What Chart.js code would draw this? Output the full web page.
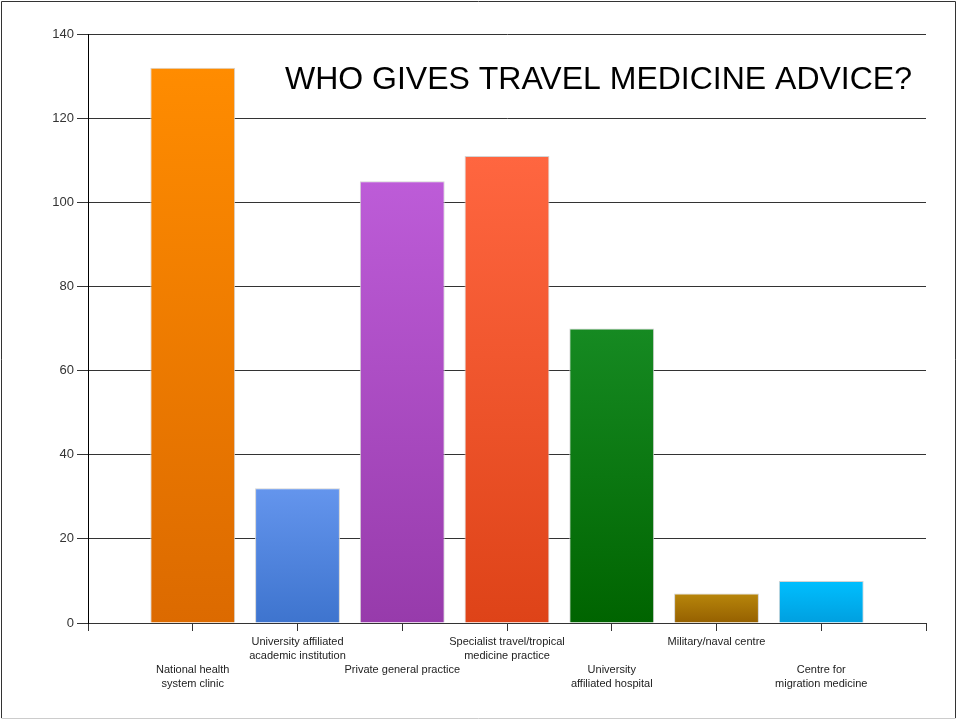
<!DOCTYPE html>
<html>
<head>
<meta charset="utf-8">
<script src="https://cdn.jsdelivr.net/npm/chart.js@4/dist/chart.umd.min.js"></script>
<style>
  html, body { margin: 0; padding: 0; background: #fff; }
  #wrap { width: 957px; height: 720px; position: relative; }
</style>
</head>
<body>
<div id="wrap"><canvas id="chart" width="957" height="720"></canvas></div>
<script>
const categories = [
    ["National health", "system clinic"],
    ["University affiliated", "academic institution"],
    ["Private general practice"],
    ["Specialist travel/tropical", "medicine practice"],
    ["University", "affiliated hospital"],
    ["Military/naval centre"],
    ["Centre for", "migration medicine"],
];
const values = [132, 32, 105, 111, 70, 7, 10];
const topColors = ["#ff8c00", "#6495ed", "#bd5cd8", "#ff6640", "#168a22", "#b8860b", "#00bfff"];
const bottomColors = ["#dc6a00", "#3e74ce", "#973bab", "#de4318", "#006400", "#956000", "#009fdf"];
const yTicks = [0, 20, 40, 60, 80, 100, 120, 140];
const chartTitle = "WHO GIVES TRAVEL MEDICINE ADVICE?";

// empty slot on each side so the bars sit on ticks 1..7 of an 8-wide axis
const labels = [""].concat(categories.map((c, i) => (i % 2 === 0 ? ["", ""].concat(c) : c)), [""]);
const data = [null].concat(values, [null]);

const frame = {
    id: "frame",
    beforeDraw(chart) {
        const c = chart.ctx;
        c.save();
        c.fillStyle = "#fff";
        c.fillRect(0, 0, chart.width, chart.height);
        c.restore();
    },
    afterDraw(chart) {
        const c = chart.ctx;
        const area = chart.chartArea;
        c.save();
        c.strokeStyle = "#333";
        c.lineWidth = 1;
        c.beginPath();
        c.moveTo(1.5, 718);
        c.lineTo(1.5, 1.5);
        c.lineTo(955.5, 1.5);
        c.lineTo(955.5, 718);
        c.stroke();
        c.strokeStyle = "#ccc";
        c.beginPath();
        c.moveTo(1.5, 718.5);
        c.lineTo(955.5, 718.5);
        c.stroke();
        c.fillStyle = "#000";
        c.font = "32px 'Liberation Sans', Arial, sans-serif";
        c.textAlign = "right";
        c.textBaseline = "alphabetic";
        c.fillText(chartTitle, area.right - 14, area.top + 55);
        c.restore();
    },
};

function barGradient(context) {
    const chart = context.chart;
    const i = context.dataIndex - 1;
    if (i < 0 || i >= values.length) return "#fff";
    if (!chart.chartArea) return topColors[i];
    const y = chart.scales.y;
    const g = chart.ctx.createLinearGradient(0, y.getPixelForValue(values[i]), 0, y.getPixelForValue(0));
    g.addColorStop(0, topColors[i]);
    g.addColorStop(1, bottomColors[i]);
    return g;
}

new Chart(document.getElementById("chart").getContext("2d"), {
    type: "bar",
    data: {
        labels: labels,
        datasets: [
            {
                data: data,
                backgroundColor: barGradient,
                borderColor: "#d4d4d4",
                borderWidth: 1,
                barPercentage: 0.9,
                categoryPercentage: 0.9,
            },
        ],
    },
    options: {
        responsive: false,
        animation: false,
        layout: { padding: { top: 34, right: 31, left: 0, bottom: 0 } },
        plugins: {
            legend: { display: false },
            tooltip: { enabled: false },
        },
        scales: {
            x: {
                offset: false,
                grid: { offset: false, drawOnChartArea: false, drawTicks: true, tickLength: 8, color: "#333" },
                border: { color: "#333", width: 1 },
                ticks: {
                    autoSkip: false,
                    maxRotation: 0,
                    minRotation: 0,
                    padding: 4,
                    color: "#222",
                    font: { family: "'Liberation Sans', Arial, sans-serif", size: 11, lineHeight: 1.27 },
                },
                afterFit(scale) {
                    scale.height = 97;
                },
            },
            y: {
                min: 0,
                max: 140,
                afterBuildTicks(scale) {
                    scale.ticks = yTicks.map((v) => ({ value: v }));
                },
                grid: { color: "#333", lineWidth: 1, tickLength: 11 },
                border: { color: "#000", width: 1 },
                ticks: {
                    padding: 3,
                    color: "#333",
                    font: { family: "'Liberation Sans', Arial, sans-serif", size: 13 },
                },
                afterFit(scale) {
                    scale.width = 88;
                },
            },
        },
    },
    plugins: [frame],
});
</script>
</body>
</html>
